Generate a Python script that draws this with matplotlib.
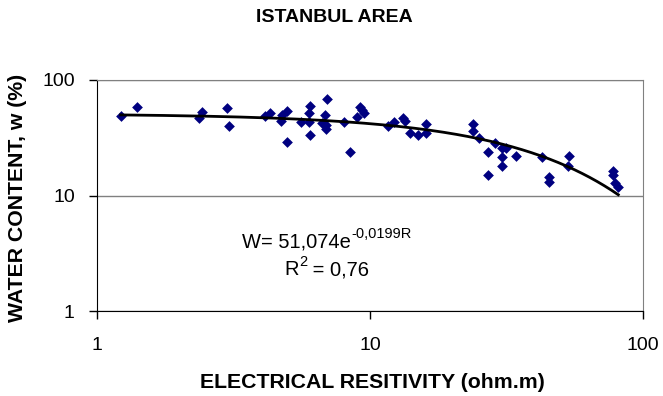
import numpy as np
import matplotlib
matplotlib.use("Agg")
import matplotlib.pyplot as plt

plt.rcParams['font.family'] = ['Liberation Sans', 'DejaVu Sans']

# resistivity (ohm.m) and water content (%)
resistivity = [1.22, 1.40, 2.37, 2.42, 2.99, 3.05, 4.14, 4.29, 4.73, 4.75, 4.97, 4.97,
               5.6, 6.04, 5.99, 5.99, 6.04, 6.96, 6.86, 6.67, 6.92, 6.88, 8.01, 8.43,
               9.22, 9.48, 8.96, 9.32, 11.67, 12.2, 13.2, 13.4, 14.0, 15.0, 16.0, 16.0,
               23.9, 23.8, 25.1, 27.1, 27.1, 28.7, 30.4, 30.4, 30.4, 31.5, 34.2, 42.6,
               45.3, 45.3, 53.7, 53.2, 77.4, 77.4, 78.9, 81.2]
water = [49, 58.9, 47.3, 53.3, 57.7, 39.6, 49, 51.6, 44.6, 49.5, 54.4, 29,
         43.7, 60, 51.6, 43.7, 33.6, 68.1, 49.9, 42.8, 37.6, 40.5, 43.7, 23.8,
         58.2, 52.3, 47.7, 55.1, 40.1, 43.7, 47.3, 44.6, 34.7, 33.6, 41.8, 34.7,
         41.8, 36.3, 31.4, 23.8, 15.0, 28.5, 25.8, 21.6, 17.9, 25.8, 21.8, 21.6,
         14.5, 13.0, 21.8, 17.9, 16.2, 14.9, 12.9, 11.9]

# exponential trend W = 51.074 e^(-0.0199 R)
fit_a = 51.074
fit_b = -0.0199
r_fit = np.linspace(1.22, 81.2, 300)
w_fit = fit_a * np.exp(fit_b * r_fit)

fig = plt.figure(figsize=(6.63, 3.96), dpi=100)
ax = fig.add_axes([97 / 663, 1 - 311 / 396, 546 / 663, 231 / 396])

ax.scatter(resistivity, water, marker='D', s=30, color='#000080', zorder=3, linewidths=0)
ax.plot(r_fit, w_fit, color='black', lw=2, zorder=4)

ax.set_xscale('log')
ax.set_yscale('log')
ax.set_xlim(1, 100)
ax.set_ylim(1, 100)
ax.set_xticks([1, 10, 100])
ax.set_xticklabels(['1', '10', '100'])
ax.set_yticks([1, 10, 100])
ax.set_yticklabels(['1', '10', '100'])
ax.minorticks_off()
ax.yaxis.grid(True, color='#808080', lw=1)
ax.set_axisbelow(True)

for side in ['top', 'right']:
    ax.spines[side].set_color('#808080')
for side in ['left', 'bottom']:
    ax.spines[side].set_color('black')
ax.tick_params(axis='both', direction='out', length=6, width=1, labelsize=14)
ax.tick_params(axis='y', pad=10)
ax.tick_params(axis='x', pad=13)

fig.text(372 / 663, 1 - 382 / 396, 'ELECTRICAL RESITIVITY (ohm.m)', ha='center', va='center',
         fontsize=15.3, fontweight='bold')
fig.text(18 / 663, 1 - 198 / 396, 'WATER CONTENT, w (%)', ha='center', va='center',
         rotation=90, fontsize=15.3, fontweight='bold')
fig.text(334 / 663, 1 - 18 / 396, 'ISTANBUL AREA', ha='center', va='center',
         fontsize=14, fontweight='bold')

# equation with a plain-hyphen superscript, drawn as two pieces
base = ax.text(0, 0, 'W= 51,074e', transform=ax.transAxes, fontsize=14.5, va='baseline')
sup = ax.text(0, 0, '-0,0199R', transform=ax.transAxes, fontsize=10.5, va='baseline')
fig.canvas.draw()
rend = fig.canvas.get_renderer()
wb = base.get_window_extent(rend).width
ws = sup.get_window_extent(rend).width
cx, cy = ax.transAxes.transform((0.421, 0.275))
x0 = cx - (wb + ws) / 2
inv = ax.transAxes.inverted()
base.set_position(inv.transform((x0, cy)))
sup.set_position(inv.transform((x0 + wb, cy + 9)))

r2 = ax.text(0, 0, 'R', transform=ax.transAxes, fontsize=14.5, va='baseline')
r2s = ax.text(0, 0, '2', transform=ax.transAxes, fontsize=10.5, va='baseline')
r2e = ax.text(0, 0, ' = 0,76', transform=ax.transAxes, fontsize=14.5, va='baseline')
fig.canvas.draw()
w1 = r2.get_window_extent(rend).width
w2 = r2s.get_window_extent(rend).width
w3 = r2e.get_window_extent(rend).width
cx, cy = ax.transAxes.transform((0.421, 0.155))
x0 = cx - (w1 + w2 + w3) / 2
r2.set_position(inv.transform((x0, cy)))
r2s.set_position(inv.transform((x0 + w1, cy + 9)))
r2e.set_position(inv.transform((x0 + w1 + w2, cy)))

fig.savefig('out.png', dpi=100)
